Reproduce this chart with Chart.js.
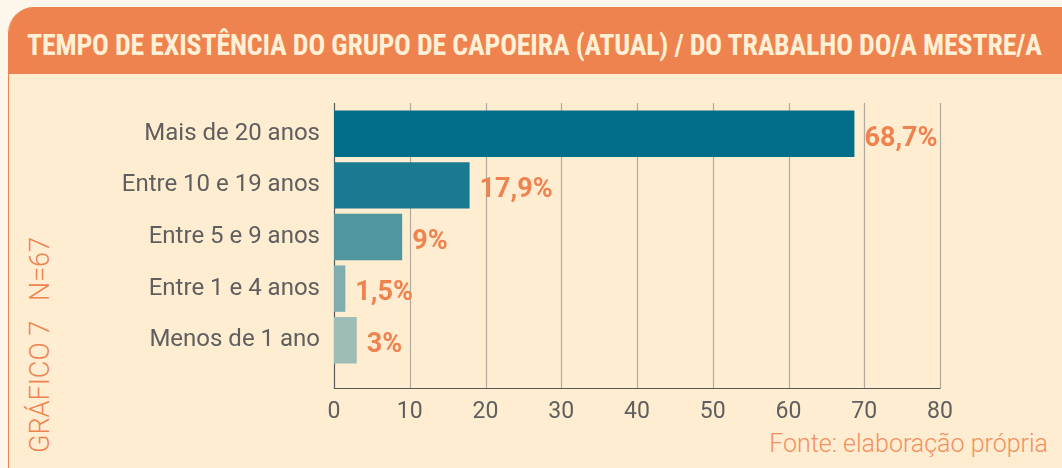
<!DOCTYPE html>
<html>
<head>
<meta charset="utf-8">
<script src="https://cdn.jsdelivr.net/npm/chart.js@4"></script>
<style>
  html, body { margin: 0; padding: 0; }
  body { width: 1062px; height: 468px; background: #fdf6ea; position: relative; overflow: hidden; font-family: Roboto, sans-serif; }
  .panel { position: absolute; left: 8px; top: 7px; width: 1080px; height: 486px; background: #feedd0; border-left: 1.5px solid #ef8350; border-radius: 26px 22px 0 26px; overflow: hidden; }
  .head { position: absolute; left: 0; top: 0; right: 0; height: 67px; background: #ef834f; }
  .title { position: absolute; left: 27px; top: 44px; transform-origin: left center; transform: translateY(-50%) scaleX(0.93); font-family: "Liberation Sans Narrow", "Roboto Condensed", Roboto, sans-serif; font-weight: bold; font-size: 30px; color: #fff0d6; white-space: nowrap; letter-spacing: -0.2px; }
  .side { position: absolute; left: 40px; top: 345px; transform: translate(-50%, -50%) rotate(-90deg); font-family: Roboto, sans-serif; font-weight: 300; font-size: 27px; color: #ef8350; white-space: nowrap; }
  .src { position: absolute; right: 14px; top: 429px; font-family: Roboto, sans-serif; font-weight: 300; font-size: 25px; color: #f39060; white-space: nowrap; }
  #wrap { position: absolute; left: 0; top: 0; width: 1062px; height: 468px; }
</style>
</head>
<body>
<div class="panel"><div class="head"></div></div>
<div class="title">TEMPO DE EXISTÊNCIA DO GRUPO DE CAPOEIRA (ATUAL) / DO TRABALHO DO/A MESTRE/A</div>
<div class="side">GRÁFICO 7&nbsp;&nbsp;&nbsp;N=67</div>
<div class="src">Fonte: elaboração própria</div>
<div id="wrap"><canvas id="chart" width="1062" height="468"></canvas></div>
<script>
// data
const categories = ['Mais de 20 anos', 'Entre 10 e 19 anos', 'Entre 5 e 9 anos', 'Entre 1 e 4 anos', 'Menos de 1 ano'];
const percentages = [68.7, 17.9, 9, 1.5, 3];
const valueLabels = ['68,7%', '17,9%', '9%', '1,5%', '3%'];
const barColors = ['#026e89', '#1a7a8f', '#4f969e', '#80aeb0', '#9dbdb6'];
const xTicks = [0, 10, 20, 30, 40, 50, 60, 70, 80];

// grid lines and axis lines, a bit longer than the chart area
const gridPlugin = {
    id: 'grid',
    beforeDatasetsDraw(chart) {
        const { ctx, chartArea, scales } = chart;
        const top = chartArea.top - 5, bottom = chartArea.bottom + 22;
        ctx.save();
        ctx.lineWidth = 1.2;
        ctx.strokeStyle = '#b3aa9c';
        xTicks.forEach(v => {
            if (v === 0) return;
            const x = Math.round(scales.x.getPixelForValue(v)) + 0.5;
            ctx.beginPath();
            ctx.moveTo(x, top);
            ctx.lineTo(x, bottom);
            ctx.stroke();
        });
        ctx.strokeStyle = '#5a5a5a';
        const x0 = Math.round(scales.x.getPixelForValue(0)) + 0.5;
        ctx.beginPath();
        ctx.moveTo(x0, top);
        ctx.lineTo(x0, bottom + 0.5);
        ctx.lineTo(Math.round(scales.x.getPixelForValue(80)) + 0.5, bottom + 0.5);
        ctx.stroke();
        ctx.restore();
    }
};

// value labels after each bar
const labelPlugin = {
    id: 'valueLabels',
    afterDatasetsDraw(chart) {
        const { ctx } = chart;
        const meta = chart.getDatasetMeta(0);
        ctx.save();
        ctx.font = 'bold 27px Roboto, sans-serif';
        ctx.fillStyle = '#ef8350';
        ctx.textAlign = 'left';
        ctx.textBaseline = 'middle';
        meta.data.forEach((bar, i) => {
            ctx.fillText(valueLabels[i], bar.x + 10, bar.y + 5);
        });
        ctx.restore();
    }
};

new Chart(document.getElementById('chart'), {
    type: 'bar',
    data: {
        labels: categories,
        datasets: [{
            data: percentages,
            backgroundColor: barColors,
            barPercentage: 0.9,
            categoryPercentage: 1
        }]
    },
    options: {
        indexAxis: 'y',
        responsive: false,
        animation: false,
        devicePixelRatio: 1,
        layout: { padding: { left: 0, right: 122, top: 108, bottom: 0 } },
        plugins: { legend: { display: false }, tooltip: { enabled: false } },
        scales: {
            x: {
                min: 0,
                max: 80,
                afterFit: s => { s.height = 102; },
                afterBuildTicks: s => { s.ticks = xTicks.map(v => ({ value: v })); },
                grid: { display: false, drawTicks: false },
                border: { display: false },
                ticks: { padding: 32, color: '#5f5f5f', font: { family: 'Roboto', size: 23 } }
            },
            y: {
                afterFit: s => { s.width = 334; },
                grid: { display: false, drawTicks: false },
                border: { display: false },
                ticks: { padding: 14, color: '#5f5f5f', font: { family: 'Roboto', size: 24 } }
            }
        }
    },
    plugins: [gridPlugin, labelPlugin]
});
</script>
</body>
</html>
